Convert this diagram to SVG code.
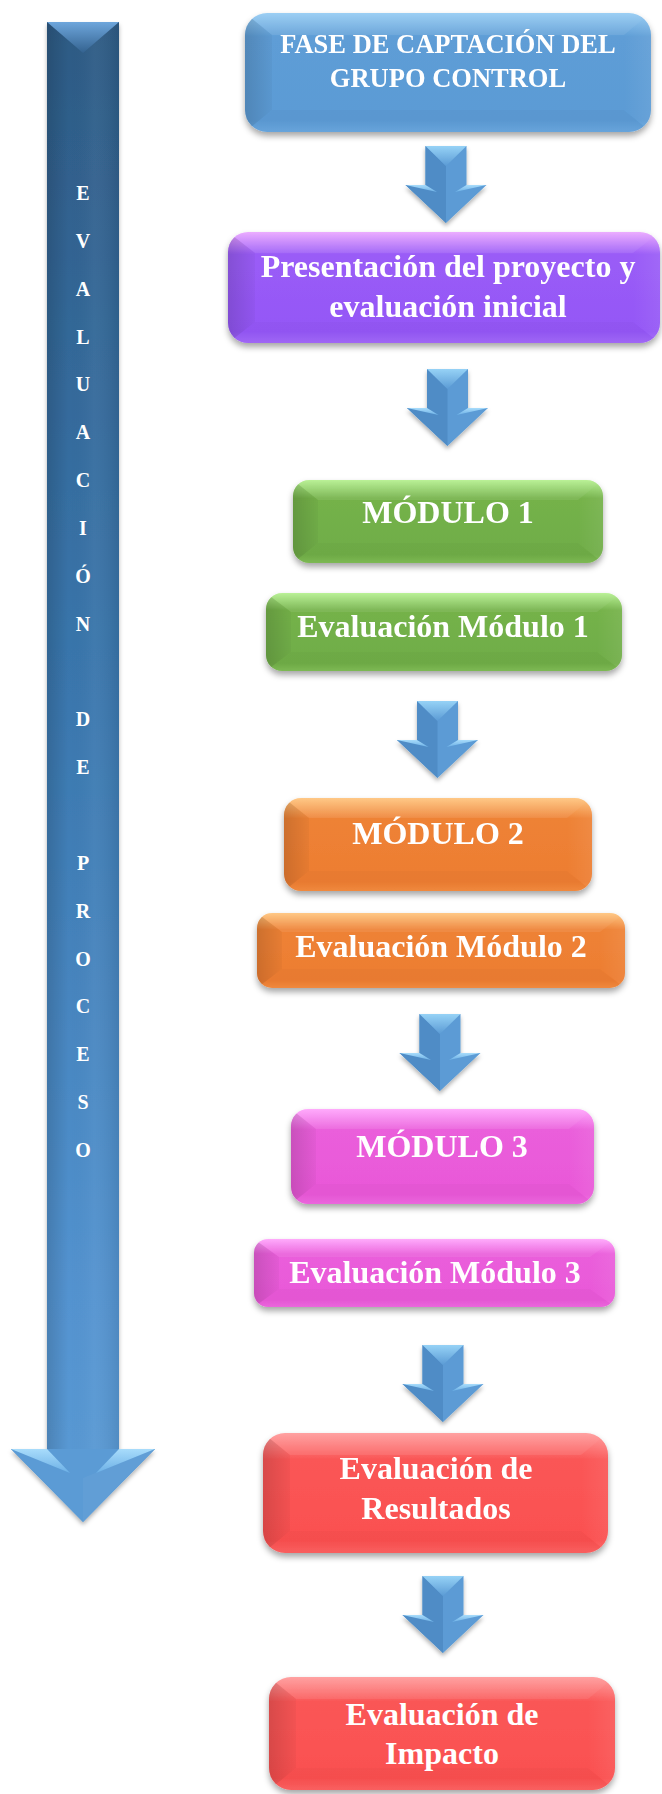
<svg xmlns="http://www.w3.org/2000/svg" width="662" height="1794" viewBox="0 0 662 1794">
<style>
  .t{font-family:"Liberation Serif","Times New Roman",serif;font-weight:bold;fill:#fff;text-anchor:middle}
  .t32{font-size:32px}
  .t26{font-size:26.5px}
  .lt{font-family:"Liberation Serif","Times New Roman",serif;font-weight:bold;fill:#fff;text-anchor:middle;font-size:20px}
  .bvL{fill:url(#gL)}
  .bvT{fill:#fff;opacity:.08}
  .bvR{fill:url(#gR)}
  .bvB{fill:#000;opacity:.02}
</style>
<defs>
  <filter id="sh" x="-10%" y="-20%" width="120%" height="150%">
    <feDropShadow dx="0" dy="4" stdDeviation="3" flood-color="#000" flood-opacity=".35"/>
  </filter>
  <filter id="sha" x="-30%" y="-20%" width="160%" height="150%">
    <feDropShadow dx="0" dy="3" stdDeviation="2" flood-color="#000" flood-opacity=".3"/>
  </filter>
  <linearGradient id="gL" x1="0" y1="0" x2="1" y2="0">
    <stop offset="0" stop-color="#000" stop-opacity=".14"/><stop offset="1" stop-color="#000" stop-opacity=".03"/>
  </linearGradient>
  <linearGradient id="gR" x1="0" y1="0" x2="1" y2="0">
    <stop offset="0" stop-color="#fff" stop-opacity=".0"/><stop offset="1" stop-color="#fff" stop-opacity=".07"/>
  </linearGradient>
  <linearGradient id="gBlue" x1="0" y1="0" x2="0" y2="1">
    <stop offset="0" stop-color="#94cbf3"/><stop offset=".2" stop-color="#5e9dd6"/><stop offset=".9" stop-color="#5b9bd5"/><stop offset="1" stop-color="#6aa8e0"/>
  </linearGradient>
  <linearGradient id="gPurple" x1="0" y1="0" x2="0" y2="1">
    <stop offset="0" stop-color="#eaa6ff"/><stop offset=".2" stop-color="#9a5cf7"/><stop offset=".9" stop-color="#9457f6"/><stop offset="1" stop-color="#a46afa"/>
  </linearGradient>
  <linearGradient id="gGreen" x1="0" y1="0" x2="0" y2="1">
    <stop offset="0" stop-color="#b4f08e"/><stop offset=".22" stop-color="#74b24a"/><stop offset=".9" stop-color="#70ad47"/><stop offset="1" stop-color="#80bd56"/>
  </linearGradient>
  <linearGradient id="gOrange" x1="0" y1="0" x2="0" y2="1">
    <stop offset="0" stop-color="#ffc47c"/><stop offset=".22" stop-color="#ee8236"/><stop offset=".9" stop-color="#ed7d31"/><stop offset="1" stop-color="#f58c40"/>
  </linearGradient>
  <linearGradient id="gMag" x1="0" y1="0" x2="0" y2="1">
    <stop offset="0" stop-color="#ffa4fc"/><stop offset=".22" stop-color="#ea5edb"/><stop offset=".9" stop-color="#e958d8"/><stop offset="1" stop-color="#f068e2"/>
  </linearGradient>
  <linearGradient id="gRed" x1="0" y1="0" x2="0" y2="1">
    <stop offset="0" stop-color="#ff9a9a"/><stop offset=".22" stop-color="#fa5656"/><stop offset=".9" stop-color="#fa5050"/><stop offset="1" stop-color="#fe6262"/>
  </linearGradient>
  <linearGradient id="gBig" gradientUnits="userSpaceOnUse" x1="0" y1="22" x2="0" y2="1522">
    <stop offset="0" stop-color="#2d5a84"/><stop offset=".45" stop-color="#3a77ae"/><stop offset=".85" stop-color="#5393d0"/><stop offset="1" stop-color="#5b9bd5"/>
  </linearGradient>
  <linearGradient id="gBigH" gradientUnits="userSpaceOnUse" x1="47" y1="0" x2="119" y2="0">
    <stop offset="0" stop-color="#000" stop-opacity=".14"/><stop offset=".3" stop-color="#000" stop-opacity="0"/><stop offset=".65" stop-color="#fff" stop-opacity=".04"/><stop offset="1" stop-color="#000" stop-opacity=".08"/>
  </linearGradient>
  <linearGradient id="gNotchBig" x1="0" y1="0" x2="0" y2="1">
    <stop offset="0" stop-color="#6ea6dc"/><stop offset="1" stop-color="#33628f"/>
  </linearGradient>
  <linearGradient id="gNotch" x1="0" y1="0" x2="0" y2="1">
    <stop offset="0" stop-color="#96d2f6"/><stop offset="1" stop-color="#5b9bd5"/>
  </linearGradient>
  <linearGradient id="gWing" x1="0" y1="0" x2="0" y2="1">
    <stop offset="0" stop-color="#a8dcfb"/><stop offset="1" stop-color="#6cb0e6"/>
  </linearGradient>
  <g id="sa">
    <polygon points="-20.5,0 20.5,0 20.5,39 40.5,39 0,77 -40.5,39 -20.5,39" fill="#5b9bd5"/>
    <polygon points="-20.5,0 0,20 0,77 -40.5,39 -20.5,39" fill="#4f8cc6"/>
    <polygon points="-20.5,0 20.5,0 0,20" fill="url(#gNotch)"/>
    <polygon points="-40.5,39 -20.5,39 -9,46" fill="url(#gWing)"/>
    <polygon points="40.5,39 20.5,39 9,46" fill="url(#gWing)"/>
  </g>
  <clipPath id="c1"><rect x="245" y="13" width="406" height="119" rx="22"/></clipPath>
  <clipPath id="c2"><rect x="228" y="232" width="432" height="111" rx="20"/></clipPath>
  <clipPath id="c3"><rect x="293" y="480" width="310" height="83" rx="16"/></clipPath>
  <clipPath id="c4"><rect x="266" y="593" width="356" height="78" rx="16"/></clipPath>
  <clipPath id="c5"><rect x="284" y="798" width="308" height="93" rx="17"/></clipPath>
  <clipPath id="c6"><rect x="257" y="913" width="368" height="75" rx="15"/></clipPath>
  <clipPath id="c7"><rect x="291" y="1109" width="303" height="95" rx="17"/></clipPath>
  <clipPath id="c8"><rect x="254" y="1239" width="361" height="68" rx="14"/></clipPath>
  <clipPath id="c9"><rect x="263" y="1433" width="345" height="120" rx="22"/></clipPath>
  <clipPath id="c10"><rect x="269" y="1677" width="346" height="113" rx="22"/></clipPath>
</defs>

<rect x="0" y="0" width="662" height="1794" fill="#fff"/>

<!-- Left process arrow -->
<g id="evaluacion-proceso">
  <g filter="url(#sha)">
    <polygon points="47,22 119,22 119,1449 155,1449 83,1522 11,1449 47,1449" fill="url(#gBig)"/>
  </g>
  <rect x="47" y="22" width="72" height="1427" fill="url(#gBigH)"/>
  <polygon points="47,22 119,22 83,53" fill="url(#gNotchBig)"/>
  <polygon points="11,1449 155,1449 83,1522" fill="#5b9bd5"/>
  <polygon points="83,1478 155,1449 83,1522" fill="#fff" opacity=".04"/>
  <polygon points="11,1449 47,1449 70,1473" fill="url(#gWing)"/>
  <polygon points="155,1449 119,1449 96,1473" fill="url(#gWing)"/>
  <text class="lt" x="83" y="200">E</text>
  <text class="lt" x="83" y="248">V</text>
  <text class="lt" x="83" y="296">A</text>
  <text class="lt" x="83" y="344">L</text>
  <text class="lt" x="83" y="391">U</text>
  <text class="lt" x="83" y="439">A</text>
  <text class="lt" x="83" y="487">C</text>
  <text class="lt" x="83" y="535">I</text>
  <text class="lt" x="83" y="583">Ó</text>
  <text class="lt" x="83" y="631">N</text>
  <text class="lt" x="83" y="726">D</text>
  <text class="lt" x="83" y="774">E</text>
  <text class="lt" x="83" y="870">P</text>
  <text class="lt" x="83" y="918">R</text>
  <text class="lt" x="83" y="966">O</text>
  <text class="lt" x="83" y="1013">C</text>
  <text class="lt" x="83" y="1061">E</text>
  <text class="lt" x="83" y="1109">S</text>
  <text class="lt" x="83" y="1157">O</text>
</g>

<!-- Connectors -->
<g id="connectors" filter="url(#sha)">
  <use href="#sa" transform="translate(446,146)"/>
  <use href="#sa" transform="translate(447.5,369)"/>
  <use href="#sa" transform="translate(437.5,701)"/>
  <use href="#sa" transform="translate(440,1014)"/>
  <use href="#sa" transform="translate(443,1345)"/>
  <use href="#sa" transform="translate(443,1576)"/>
</g>

<!-- Nodes -->
<g id="fase-captacion">
  <rect x="245" y="13" width="406" height="119" rx="22" fill="url(#gBlue)" filter="url(#sh)"/>
  <g clip-path="url(#c1)">
    <polygon class="bvL" points="245,13 272,35 272,110 245,132"/>
    <polygon class="bvT" points="245,13 651,13 624,35 272,35"/>
    <polygon class="bvR" points="651,13 651,132 624,110 624,35"/>
    <polygon class="bvB" points="245,132 651,132 624,110 272,110"/>
  </g>
  <text class="t t26" x="448" y="53">FASE DE CAPTACIÓN DEL</text>
  <text class="t t26" x="448" y="87">GRUPO CONTROL</text>
</g>

<g id="presentacion">
  <rect x="228" y="232" width="432" height="111" rx="20" fill="url(#gPurple)" filter="url(#sh)"/>
  <g clip-path="url(#c2)">
    <polygon class="bvL" points="228,232 255,253 255,322 228,343"/>
    <polygon class="bvT" points="228,232 660,232 633,253 255,253"/>
    <polygon class="bvR" points="660,232 660,343 633,322 633,253"/>
    <polygon class="bvB" points="228,343 660,343 633,322 255,322"/>
  </g>
  <text class="t t32" x="448" y="277">Presentación del proyecto y</text>
  <text class="t t32" x="448" y="317">evaluación inicial</text>
</g>

<g id="modulo1">
  <rect x="293" y="480" width="310" height="83" rx="16" fill="url(#gGreen)" filter="url(#sh)"/>
  <g clip-path="url(#c3)">
    <polygon class="bvL" points="293,480 318,500 318,543 293,563"/>
    <polygon class="bvT" points="293,480 603,480 578,500 318,500"/>
    <polygon class="bvR" points="603,480 603,563 578,543 578,500"/>
    <polygon class="bvB" points="293,563 603,563 578,543 318,543"/>
  </g>
  <text class="t t32" x="448" y="523">MÓDULO 1</text>
</g>

<g id="eval-modulo1">
  <rect x="266" y="593" width="356" height="78" rx="16" fill="url(#gGreen)" filter="url(#sh)"/>
  <g clip-path="url(#c4)">
    <polygon class="bvL" points="266,593 291,612 291,652 266,671"/>
    <polygon class="bvT" points="266,593 622,593 597,612 291,612"/>
    <polygon class="bvR" points="622,593 622,671 597,652 597,612"/>
    <polygon class="bvB" points="266,671 622,671 597,652 291,652"/>
  </g>
  <text class="t t32" x="443" y="637">Evaluación Módulo 1</text>
</g>

<g id="modulo2">
  <rect x="284" y="798" width="308" height="93" rx="17" fill="url(#gOrange)" filter="url(#sh)"/>
  <g clip-path="url(#c5)">
    <polygon class="bvL" points="284,798 309,818 309,871 284,891"/>
    <polygon class="bvT" points="284,798 592,798 567,818 309,818"/>
    <polygon class="bvR" points="592,798 592,891 567,871 567,818"/>
    <polygon class="bvB" points="284,891 592,891 567,871 309,871"/>
  </g>
  <text class="t t32" x="438" y="844">MÓDULO 2</text>
</g>

<g id="eval-modulo2">
  <rect x="257" y="913" width="368" height="75" rx="15" fill="url(#gOrange)" filter="url(#sh)"/>
  <g clip-path="url(#c6)">
    <polygon class="bvL" points="257,913 282,932 282,969 257,988"/>
    <polygon class="bvT" points="257,913 625,913 600,932 282,932"/>
    <polygon class="bvR" points="625,913 625,988 600,969 600,932"/>
    <polygon class="bvB" points="257,988 625,988 600,969 282,969"/>
  </g>
  <text class="t t32" x="441" y="957">Evaluación Módulo 2</text>
</g>

<g id="modulo3">
  <rect x="291" y="1109" width="303" height="95" rx="17" fill="url(#gMag)" filter="url(#sh)"/>
  <g clip-path="url(#c7)">
    <polygon class="bvL" points="291,1109 316,1129 316,1184 291,1204"/>
    <polygon class="bvT" points="291,1109 594,1109 569,1129 316,1129"/>
    <polygon class="bvR" points="594,1109 594,1204 569,1184 569,1129"/>
    <polygon class="bvB" points="291,1204 594,1204 569,1184 316,1184"/>
  </g>
  <text class="t t32" x="442" y="1157">MÓDULO 3</text>
</g>

<g id="eval-modulo3">
  <rect x="254" y="1239" width="361" height="68" rx="14" fill="url(#gMag)" filter="url(#sh)"/>
  <g clip-path="url(#c8)">
    <polygon class="bvL" points="254,1239 279,1257 279,1289 254,1307"/>
    <polygon class="bvT" points="254,1239 615,1239 590,1257 279,1257"/>
    <polygon class="bvR" points="615,1239 615,1307 590,1289 590,1257"/>
    <polygon class="bvB" points="254,1307 615,1307 590,1289 279,1289"/>
  </g>
  <text class="t t32" x="435" y="1283">Evaluación Módulo 3</text>
</g>

<g id="eval-resultados">
  <rect x="263" y="1433" width="345" height="120" rx="22" fill="url(#gRed)" filter="url(#sh)"/>
  <g clip-path="url(#c9)">
    <polygon class="bvL" points="263,1433 290,1455 290,1531 263,1553"/>
    <polygon class="bvT" points="263,1433 608,1433 581,1455 290,1455"/>
    <polygon class="bvR" points="608,1433 608,1553 581,1531 581,1455"/>
    <polygon class="bvB" points="263,1553 608,1553 581,1531 290,1531"/>
  </g>
  <text class="t t32" x="436" y="1479">Evaluación de</text>
  <text class="t t32" x="436" y="1519">Resultados</text>
</g>

<g id="eval-impacto">
  <rect x="269" y="1677" width="346" height="113" rx="22" fill="url(#gRed)" filter="url(#sh)"/>
  <g clip-path="url(#c10)">
    <polygon class="bvL" points="269,1677 296,1699 296,1768 269,1790"/>
    <polygon class="bvT" points="269,1677 615,1677 588,1699 296,1699"/>
    <polygon class="bvR" points="615,1677 615,1790 588,1768 588,1699"/>
    <polygon class="bvB" points="269,1790 615,1790 588,1768 296,1768"/>
  </g>
  <text class="t t32" x="442" y="1725">Evaluación de</text>
  <text class="t t32" x="442" y="1764">Impacto</text>
</g>
</svg>
